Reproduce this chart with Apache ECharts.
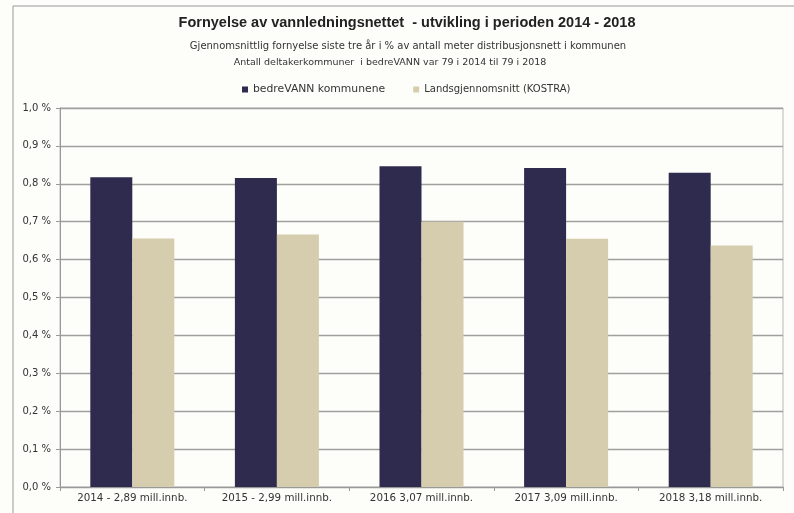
<!DOCTYPE html>
<html>
<head>
<meta charset="utf-8">
<script src="https://cdn.jsdelivr.net/npm/echarts@6/dist/echarts.min.js"></script>
<style>
  html, body { margin: 0; padding: 0; background: #fdfdf9; }
  #chart { width: 794px; height: 513px; }
</style>
</head>
<body>
<div id="chart"></div>
<script>
// categories and values
const categories = [
  '2014 - 2,89 mill.innb.',
  '2015 - 2,99 mill.innb.',
  '2016 3,07 mill.innb.',
  '2017 3,09 mill.innb.',
  '2018 3,18 mill.innb.',
]
const bedreVann = [0.817, 0.815, 0.846, 0.842, 0.829]
const kostra = [0.656, 0.666, 0.700, 0.655, 0.637]
const seriesNames = ['bedreVANN kommunene', 'Landsgjennomsnitt (KOSTRA)']

const chart = echarts.init(document.getElementById('chart'))
const small = 'DejaVu Sans'

chart.setOption({
  backgroundColor: '#fdfdf9',
  animation: false,
  title: [
    {
      text: 'Fornyelse av vannledningsnettet  - utvikling i perioden 2014 - 2018',
      left: 402,
      textAlign: 'center',
      top: 10,
      textStyle: { fontFamily: 'Liberation Sans', fontWeight: 'bold', fontSize: 14.5, color: '#222' },
    },
    {
      text: 'Gjennomsnittlig fornyelse siste tre år i % av antall meter distribusjonsnett i kommunen',
      left: 403,
      textAlign: 'center',
      top: 36,
      textStyle: { fontFamily: small, fontWeight: 'normal', fontSize: 10, color: '#333' },
    },
    {
      text: 'Antall deltakerkommuner  i bedreVANN var 79 i 2014 til 79 i 2018',
      left: 385,
      textAlign: 'center',
      top: 53,
      textStyle: { fontFamily: small, fontWeight: 'normal', fontSize: 9.5, color: '#333' },
    },
  ],
  legend: {
    data: [
      { name: seriesNames[0], textStyle: { fontSize: 10.8 } },
      { name: seriesNames[1], textStyle: { fontSize: 10 } },
    ],
    top: 79,
    left: 237,
    icon: 'rect',
    itemWidth: 6,
    itemHeight: 6,
    itemGap: 28,
    textStyle: { fontFamily: small, fontSize: 10, color: '#333' },
  },
  graphic: [
    {
      type: 'rect',
      shape: { x: 13, y: 6, width: 800, height: 520 },
      style: { fill: 'none', stroke: '#999', lineWidth: 1 },
      silent: true,
    },
  ],
  grid: {
    left: 60,
    right: 11,
    top: 108,
    bottom: 26,
    show: true,
    borderColor: '#b8b8b8',
    borderWidth: 1,
    backgroundColor: 'transparent',
  },
  xAxis: {
    type: 'category',
    data: categories,
    axisLine: { lineStyle: { color: '#999' } },
    axisTick: { show: true, length: 4, lineStyle: { color: '#999' } },
    axisLabel: { fontFamily: small, fontSize: 10.3, color: '#333', margin: 6, interval: 0 },
  },
  yAxis: {
    type: 'value',
    min: 0,
    max: 1.0,
    interval: 0.1,
    axisLine: { show: true, lineStyle: { color: '#999' } },
    axisTick: { show: true, length: 4, lineStyle: { color: '#999' } },
    axisLabel: {
      fontFamily: small,
      fontSize: 10,
      color: '#333',
      margin: 9,
      formatter: (v) => v.toFixed(1).replace('.', ',') + ' %',
    },
    splitLine: { lineStyle: { color: '#a0a0a0', width: 1.3 } },
  },
  series: [
    {
      name: seriesNames[0],
      type: 'bar',
      barWidth: 42,
      barGap: '0%',
      itemStyle: { color: '#2f2b4f' },
      data: bedreVann,
    },
    {
      name: seriesNames[1],
      type: 'bar',
      barWidth: 42,
      itemStyle: { color: '#d6cdae' },
      data: kostra,
    },
  ],
})
</script>
</body>
</html>
